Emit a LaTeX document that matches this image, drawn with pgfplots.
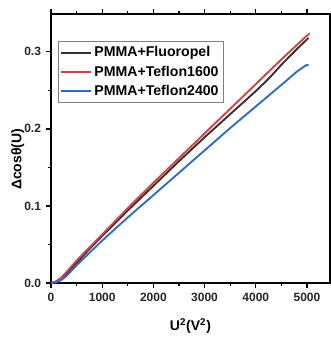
\documentclass[border=0pt]{standalone}
\usepackage{fontspec}
\setmainfont{Liberation Sans}
\usepackage{pgfplots}
\pgfplotsset{compat=1.18}
\definecolor{cblack}{RGB}{50,50,50}
\definecolor{cred}{RGB}{218,62,66}
\definecolor{cblue}{RGB}{42,108,204}
\begin{document}
\begin{tikzpicture}
\begin{axis}[
  at={(0,0)}, anchor=south west,
  scale only axis, width=209.25pt, height=201.75pt,
  xmin=0, xmax=5450, ymin=0, ymax=0.349,
  xtick={0,1000,2000,3000,4000,5000},
  minor xtick={500,1500,2500,3500,4500},
  ytick={0,0.1,0.2,0.3},
  minor ytick={0.05,0.15,0.25},
  yticklabel style={/pgf/number format/.cd,fixed,fixed zerofill,precision=1},
  xticklabel style={/pgf/number format/.cd,1000 sep={}},
  /pgf/number format/assume math mode=true,
  scaled y ticks=false,
  tick align=outside,
  major tick length=4pt, minor tick length=2.5pt,
  tick style={line width=1pt, black},
  axis line style={line width=1.5pt},
  ticklabel style={font=\bfseries\fontsize{9}{10}\selectfont, text=black!85},
  xlabel={\bfseries U\textsuperscript{2}(V\textsuperscript{2})},
  ylabel={\bfseries Δcosθ(U)},
  label style={font=\bfseries\fontsize{10.5}{12}\selectfont},
  xlabel style={at={(rel axis cs:0.5,0)}, anchor=north, yshift=-23pt},
  ylabel style={at={(rel axis cs:0,0.46)}, anchor=center, yshift=25pt},
  legend style={at={(rel axis cs:0.025,0.898)}, anchor=north west,
    draw=gray, line width=0.6pt, font=\bfseries\fontsize{10.6}{13}\selectfont,
    inner sep=1.5pt, row sep=1.3pt, cells={anchor=west}},
  legend image code/.code={\draw[#1, line width=1.5pt] (-2pt,0pt) -- (20pt,0pt);},
]
\addplot[cblack, line width=1.4pt, smooth, tension=0.3] coordinates {
(0,0) (100,0.002) (200,0.006) (300,0.012) (500,0.026) (750,0.044) (1000,0.061)
(1500,0.094) (2000,0.126) (2500,0.158) (3000,0.189) (3500,0.219) (4000,0.249)
(4250,0.265) (4500,0.283) (4750,0.300) (5000,0.316) (5030,0.318)};
\addlegendentry{PMMA+Fluoropel}
\addplot[cred, line width=1.4pt, smooth, tension=0.3] coordinates {
(0,0) (100,0.002) (200,0.007) (300,0.014) (500,0.029) (750,0.046) (1000,0.063)
(1500,0.097) (2000,0.130) (2500,0.162) (3000,0.194) (3500,0.226) (4000,0.258)
(4500,0.290) (5000,0.321) (5030,0.322)};
\addlegendentry{PMMA+Teflon1600}
\addplot[cblue, line width=1.4pt, smooth, tension=0.3] coordinates {
(0,0) (100,0.001) (200,0.004) (300,0.009) (400,0.016) (500,0.023) (750,0.039)
(1000,0.055) (1500,0.085) (2000,0.114) (2500,0.143) (3000,0.172) (3500,0.201)
(4000,0.229) (4500,0.257) (4800,0.274) (4950,0.281) (5000,0.283) (5030,0.282)};
\addlegendentry{PMMA+Teflon2400}
\end{axis}
\pgfresetboundingbox
\useasboundingbox (-38.25pt,-40.5pt) rectangle (210pt,212.25pt);
\end{tikzpicture}
\end{document}
